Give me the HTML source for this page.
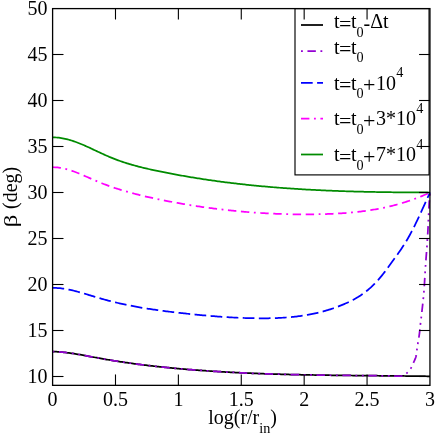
<!DOCTYPE html>
<html><head><meta charset="utf-8"><style>
html,body{margin:0;padding:0;background:#fff;}
svg{display:block;will-change:transform;}
text{font-family:"Liberation Serif",serif;font-size:20px;fill:#000;}
</style></head><body>
<svg width="436" height="434" viewBox="0 0 436 434">
<rect x="0" y="0" width="436" height="434" fill="#fff"/>
<g fill="none" stroke-width="1.75" stroke-linejoin="round">
<path d="M52.50,351.53 L53.76,351.57 L55.03,351.63 L56.29,351.70 L57.55,351.78 L58.81,351.87 L60.08,351.98 L61.34,352.09 L62.60,352.21 L63.86,352.34 L65.13,352.48 L66.39,352.63 L67.65,352.79 L68.91,352.95 L70.18,353.12 L71.44,353.30 L72.70,353.49 L73.96,353.68 L75.23,353.88 L76.49,354.08 L77.75,354.29 L79.01,354.50 L80.28,354.72 L81.54,354.94 L82.80,355.16 L84.06,355.39 L85.33,355.62 L86.59,355.85 L87.85,356.08 L89.11,356.32 L90.38,356.55 L91.64,356.79 L92.90,357.02 L94.16,357.26 L95.43,357.49 L96.69,357.73 L97.95,357.96 L99.21,358.19 L100.48,358.42 L101.74,358.65 L103.00,358.87 L104.26,359.10 L105.53,359.32 L106.79,359.53 L108.05,359.75 L109.31,359.96 L110.58,360.17 L111.84,360.38 L113.10,360.59 L114.36,360.79 L115.63,360.99 L116.89,361.19 L118.15,361.39 L119.41,361.59 L120.68,361.78 L121.94,361.97 L123.20,362.16 L124.46,362.35 L125.73,362.53 L126.99,362.71 L128.25,362.89 L129.52,363.07 L130.78,363.25 L132.04,363.42 L133.30,363.60 L134.57,363.77 L135.83,363.94 L137.09,364.10 L138.35,364.27 L139.62,364.43 L140.88,364.59 L142.14,364.75 L143.40,364.91 L144.67,365.06 L145.93,365.22 L147.19,365.37 L148.45,365.52 L149.72,365.67 L150.98,365.82 L152.24,365.96 L153.50,366.10 L154.77,366.25 L156.03,366.39 L157.29,366.53 L158.55,366.66 L159.82,366.80 L161.08,366.93 L162.34,367.06 L163.60,367.19 L164.87,367.32 L166.13,367.45 L167.39,367.58 L168.65,367.70 L169.92,367.83 L171.18,367.95 L172.44,368.07 L173.70,368.19 L174.97,368.30 L176.23,368.42 L177.49,368.53 L178.75,368.65 L180.02,368.76 L181.28,368.87 L182.54,368.98 L183.80,369.09 L185.07,369.20 L186.33,369.30 L187.59,369.41 L188.85,369.51 L190.12,369.61 L191.38,369.71 L192.64,369.81 L193.90,369.91 L195.17,370.01 L196.43,370.10 L197.69,370.20 L198.95,370.29 L200.22,370.38 L201.48,370.48 L202.74,370.57 L204.01,370.66 L205.27,370.74 L206.53,370.83 L207.79,370.92 L209.06,371.00 L210.32,371.08 L211.58,371.17 L212.84,371.25 L214.11,371.33 L215.37,371.41 L216.63,371.49 L217.89,371.56 L219.16,371.64 L220.42,371.71 L221.68,371.79 L222.94,371.86 L224.21,371.93 L225.47,372.01 L226.73,372.08 L227.99,372.14 L229.26,372.21 L230.52,372.28 L231.78,372.35 L233.04,372.41 L234.31,372.48 L235.57,372.54 L236.83,372.60 L238.09,372.66 L239.36,372.72 L240.62,372.78 L241.88,372.84 L243.14,372.90 L244.41,372.96 L245.67,373.01 L246.93,373.07 L248.19,373.13 L249.46,373.18 L250.72,373.23 L251.98,373.28 L253.24,373.34 L254.51,373.39 L255.77,373.44 L257.03,373.48 L258.29,373.53 L259.56,373.58 L260.82,373.63 L262.08,373.67 L263.34,373.72 L264.61,373.76 L265.87,373.81 L267.13,373.85 L268.39,373.89 L269.66,373.93 L270.92,373.97 L272.18,374.01 L273.44,374.05 L274.71,374.09 L275.97,374.13 L277.23,374.17 L278.49,374.20 L279.76,374.24 L281.02,374.28 L282.28,374.31 L283.55,374.34 L284.81,374.38 L286.07,374.41 L287.33,374.44 L288.60,374.48 L289.86,374.51 L291.12,374.54 L292.38,374.57 L293.65,374.60 L294.91,374.63 L296.17,374.65 L297.43,374.68 L298.70,374.71 L299.96,374.74 L301.22,374.76 L302.48,374.79 L303.75,374.81 L305.01,374.84 L306.27,374.86 L307.53,374.89 L308.80,374.91 L310.06,374.94 L311.32,374.96 L312.58,374.98 L313.85,375.00 L315.11,375.02 L316.37,375.04 L317.63,375.07 L318.90,375.09 L320.16,375.11 L321.42,375.12 L322.68,375.14 L323.95,375.16 L325.21,375.18 L326.47,375.20 L327.73,375.22 L329.00,375.23 L330.26,375.25 L331.52,375.27 L332.78,375.28 L334.05,375.30 L335.31,375.32 L336.57,375.33 L337.83,375.35 L339.10,375.36 L340.36,375.38 L341.62,375.39 L342.88,375.41 L344.15,375.42 L345.41,375.44 L346.67,375.45 L347.93,375.46 L349.20,375.48 L350.46,375.49 L351.72,375.50 L352.98,375.52 L354.25,375.53 L355.51,375.54 L356.77,375.55 L358.04,375.56 L359.30,375.58 L360.56,375.59 L361.82,375.60 L363.09,375.61 L364.35,375.62 L365.61,375.64 L366.87,375.65 L368.14,375.66 L369.40,375.67 L370.66,375.68 L371.92,375.69 L373.19,375.70 L374.45,375.72 L375.71,375.73 L376.97,375.74 L378.24,375.75 L379.50,375.76 L380.76,375.77 L382.02,375.78 L383.29,375.79 L384.55,375.80 L385.81,375.82 L387.07,375.83 L388.34,375.84 L389.60,375.85 L390.86,375.86 L392.12,375.87 L393.39,375.88 L394.65,375.90 L395.91,375.91 L397.17,375.92 L398.44,375.93 L399.70,375.95 L400.96,375.96 L402.22,375.97 L403.49,375.98 L404.75,376.00 L406.01,376.01 L407.27,376.02 L408.54,376.04 L409.80,376.05 L411.06,376.06 L412.32,376.08 L413.59,376.09 L414.85,376.11 L416.11,376.12 L417.37,376.14 L418.64,376.15 L419.90,376.17 L421.16,376.18 L422.42,376.20 L423.69,376.22 L424.95,376.23 L426.21,376.25 L427.47,376.27 L428.74,376.28 L430.00,376.30" stroke="#000"/>
<path d="M52.50,351.53 L53.76,351.57 L55.03,351.63 L56.29,351.70 L57.55,351.78 L58.81,351.87 L60.08,351.98 L61.34,352.09 L62.60,352.21 L63.86,352.34 L65.13,352.48 L66.39,352.63 L67.65,352.79 L68.91,352.95 L70.18,353.12 L71.44,353.30 L72.70,353.49 L73.96,353.68 L75.23,353.88 L76.49,354.08 L77.75,354.29 L79.01,354.50 L80.28,354.72 L81.54,354.94 L82.80,355.16 L84.06,355.39 L85.33,355.62 L86.59,355.85 L87.85,356.08 L89.11,356.32 L90.38,356.55 L91.64,356.79 L92.90,357.02 L94.16,357.26 L95.43,357.49 L96.69,357.73 L97.95,357.96 L99.21,358.19 L100.48,358.42 L101.74,358.65 L103.00,358.87 L104.26,359.10 L105.53,359.32 L106.79,359.53 L108.05,359.75 L109.31,359.96 L110.58,360.17 L111.84,360.38 L113.10,360.59 L114.36,360.79 L115.63,360.99 L116.89,361.19 L118.15,361.39 L119.41,361.59 L120.68,361.78 L121.94,361.97 L123.20,362.16 L124.46,362.35 L125.73,362.53 L126.99,362.71 L128.25,362.89 L129.52,363.07 L130.78,363.25 L132.04,363.42 L133.30,363.60 L134.57,363.77 L135.83,363.94 L137.09,364.10 L138.35,364.27 L139.62,364.43 L140.88,364.59 L142.14,364.75 L143.40,364.91 L144.67,365.06 L145.93,365.22 L147.19,365.37 L148.45,365.52 L149.72,365.67 L150.98,365.82 L152.24,365.96 L153.50,366.10 L154.77,366.25 L156.03,366.39 L157.29,366.53 L158.55,366.66 L159.82,366.80 L161.08,366.93 L162.34,367.06 L163.60,367.19 L164.87,367.32 L166.13,367.45 L167.39,367.58 L168.65,367.70 L169.92,367.83 L171.18,367.95 L172.44,368.07 L173.70,368.19 L174.97,368.30 L176.23,368.42 L177.49,368.53 L178.75,368.65 L180.02,368.76 L181.28,368.87 L182.54,368.98 L183.80,369.09 L185.07,369.20 L186.33,369.30 L187.59,369.41 L188.85,369.51 L190.12,369.61 L191.38,369.71 L192.64,369.81 L193.90,369.91 L195.17,370.01 L196.43,370.10 L197.69,370.20 L198.95,370.29 L200.22,370.38 L201.48,370.48 L202.74,370.57 L204.01,370.66 L205.27,370.74 L206.53,370.83 L207.79,370.92 L209.06,371.00 L210.32,371.08 L211.58,371.17 L212.84,371.25 L214.11,371.33 L215.37,371.41 L216.63,371.49 L217.89,371.56 L219.16,371.64 L220.42,371.71 L221.68,371.79 L222.94,371.86 L224.21,371.93 L225.47,372.01 L226.73,372.08 L227.99,372.14 L229.26,372.21 L230.52,372.28 L231.78,372.35 L233.04,372.41 L234.31,372.48 L235.57,372.54 L236.83,372.60 L238.09,372.66 L239.36,372.72 L240.62,372.78 L241.88,372.84 L243.14,372.90 L244.41,372.96 L245.67,373.01 L246.93,373.07 L248.19,373.13 L249.46,373.18 L250.72,373.23 L251.98,373.28 L253.24,373.34 L254.51,373.39 L255.77,373.44 L257.03,373.48 L258.29,373.53 L259.56,373.58 L260.82,373.63 L262.08,373.67 L263.34,373.72 L264.61,373.76 L265.87,373.81 L267.13,373.85 L268.39,373.89 L269.66,373.93 L270.92,373.97 L272.18,374.01 L273.44,374.05 L274.71,374.09 L275.97,374.13 L277.23,374.17 L278.49,374.20 L279.76,374.24 L281.02,374.28 L282.28,374.31 L283.55,374.34 L284.81,374.38 L286.07,374.41 L287.33,374.44 L288.60,374.48 L289.86,374.51 L291.12,374.54 L292.38,374.57 L293.65,374.60 L294.91,374.63 L296.17,374.65 L297.43,374.68 L298.70,374.71 L299.96,374.74 L301.22,374.76 L302.48,374.79 L303.75,374.81 L305.01,374.84 L306.27,374.86 L307.53,374.89 L308.80,374.91 L310.06,374.94 L311.32,374.96 L312.58,374.98 L313.85,375.00 L315.11,375.02 L316.37,375.04 L317.63,375.07 L318.90,375.09 L320.16,375.11 L321.42,375.12 L322.68,375.14 L323.95,375.16 L325.21,375.18 L326.47,375.20 L327.73,375.22 L329.00,375.23 L330.26,375.25 L331.52,375.27 L332.78,375.28 L334.05,375.30 L335.31,375.32 L336.57,375.33 L337.83,375.35 L339.10,375.36 L340.36,375.38 L341.62,375.39 L342.88,375.41 L344.15,375.42 L345.41,375.44 L346.67,375.45 L347.93,375.46 L349.20,375.48 L350.46,375.49 L351.72,375.50 L352.98,375.52 L354.25,375.53 L355.51,375.54 L356.77,375.55 L358.04,375.56 L359.30,375.58 L360.56,375.59 L361.82,375.60 L363.09,375.61 L364.35,375.62 L365.61,375.64 L366.87,375.65 L368.14,375.66 L369.40,375.67 L370.66,375.68 L371.92,375.69 L373.19,375.70 L374.45,375.72 L375.71,375.73 L376.97,375.74 L378.24,375.75 L379.50,375.76 L380.76,375.77 L382.02,375.78 L383.29,375.79 L384.55,375.80 L385.81,375.82 L387.07,375.83 L388.34,375.84 L389.60,375.85 L390.00,376.20 L391.01,376.20 L392.03,376.20 L393.04,376.20 L394.05,376.20 L395.06,376.20 L396.07,376.20 L397.10,376.19 L398.13,376.17 L399.17,376.14 L400.19,376.10 L401.18,376.05 L402.13,375.99 L403.06,375.75 L403.98,375.30 L404.86,374.70 L405.71,374.03 L406.50,373.36 L407.24,372.72 L407.96,372.02 L408.65,371.26 L409.30,370.46 L409.92,369.63 L410.50,368.78 L411.04,367.94 L411.53,367.07 L411.99,366.17 L412.42,365.25 L412.83,364.32 L413.23,363.38 L413.62,362.44 L414.03,361.51 L414.45,360.58 L414.86,359.64 L415.26,358.69 L415.62,357.74 L415.92,356.78 L416.16,355.82 L416.33,354.83 L416.46,353.84 L416.57,352.83 L416.67,351.81 L416.78,350.80 L416.90,349.79 L417.04,348.79 L417.19,347.79 L417.34,346.79 L417.49,345.79 L417.65,344.79 L417.81,343.79 L417.97,342.79 L418.13,341.79 L418.30,340.79 L418.47,339.79 L418.64,338.79 L418.80,337.79 L418.97,336.79 L419.12,335.79 L419.26,334.79 L419.39,333.79 L419.51,332.78 L419.63,331.78 L419.74,330.77 L419.84,329.77 L419.95,328.76 L420.05,327.75 L420.16,326.74 L420.26,325.74 L420.37,324.73 L420.49,323.72 L420.61,322.72 L420.73,321.71 L420.86,320.71 L420.99,319.71 L421.12,318.70 L421.24,317.70 L421.35,316.69 L421.47,315.68 L421.58,314.68 L421.69,313.67 L421.80,312.67 L421.91,311.66 L422.02,310.65 L422.12,309.65 L422.23,308.64 L422.34,307.63 L422.45,306.63 L422.56,305.62 L422.67,304.61 L422.77,303.61 L422.88,302.60 L422.99,301.59 L423.09,300.59 L423.19,299.58 L423.29,298.57 L423.39,297.56 L423.49,296.56 L423.58,295.55 L423.68,294.54 L423.77,293.53 L423.85,292.52 L423.93,291.52 L424.00,290.51 L424.08,289.50 L424.15,288.49 L424.22,287.48 L424.28,286.47 L424.35,285.46 L424.41,284.45 L424.47,283.44 L424.53,282.42 L424.59,281.41 L424.65,280.40 L424.71,279.39 L424.77,278.38 L424.83,277.37 L424.89,276.36 L424.95,275.35 L425.02,274.34 L425.08,273.33 L425.14,272.32 L425.21,271.31 L425.27,270.30 L425.34,269.29 L425.40,268.28 L425.46,267.27 L425.53,266.26 L425.59,265.25 L425.66,264.24 L425.72,263.23 L425.79,262.22 L425.86,261.21 L425.93,260.20 L426.00,259.19 L426.07,258.18 L426.15,257.17 L426.22,256.16 L426.30,255.15 L426.38,254.14 L426.46,253.13 L426.53,252.12 L426.61,251.11 L426.69,250.10 L426.76,249.09 L426.83,248.08 L426.91,247.07 L426.98,246.06 L427.04,245.05 L427.11,244.04 L427.17,243.03 L427.24,242.02 L427.30,241.01 L427.37,240.00 L427.43,238.99 L427.49,237.98 L427.55,236.97 L427.61,235.96 L427.67,234.95 L427.73,233.94 L427.78,232.93 L427.84,231.92 L427.89,230.91 L427.95,229.90 L428.00,228.88 L428.05,227.87 L428.10,226.86 L428.15,225.85 L428.19,224.84 L428.24,223.83 L428.29,222.82 L428.33,221.81 L428.38,220.79 L428.42,219.78 L428.47,218.77 L428.51,217.76 L428.56,216.75 L428.61,215.74 L428.65,214.73 L428.70,213.72 L428.74,212.70 L428.79,211.69 L428.83,210.68 L428.87,209.67 L428.91,208.66 L428.96,207.65 L429.00,206.63 L429.05,205.62 L429.10,204.61 L429.15,203.60 L429.21,202.59 L429.26,201.58 L429.33,200.57 L429.40,199.56 L429.47,198.55 L429.55,197.54 L429.63,196.53 L429.72,195.52 L429.81,194.52 L429.90,193.51 L430.00,192.50" stroke="#9400d3" stroke-dasharray="1.85 4.6 8.4 4.6 1.85 4.6"/>
<path d="M52.50,287.82 L53.76,287.83 L55.03,287.87 L56.29,287.93 L57.55,288.01 L58.81,288.11 L60.08,288.24 L61.34,288.38 L62.60,288.55 L63.86,288.73 L65.13,288.93 L66.39,289.15 L67.65,289.39 L68.91,289.64 L70.18,289.90 L71.44,290.18 L72.70,290.47 L73.96,290.77 L75.23,291.09 L76.49,291.41 L77.75,291.75 L79.01,292.09 L80.28,292.44 L81.54,292.80 L82.80,293.16 L84.06,293.53 L85.33,293.91 L86.59,294.28 L87.85,294.67 L89.11,295.05 L90.38,295.43 L91.64,295.82 L92.90,296.20 L94.16,296.59 L95.43,296.97 L96.69,297.35 L97.95,297.72 L99.21,298.09 L100.48,298.46 L101.74,298.82 L103.00,299.18 L104.26,299.53 L105.53,299.87 L106.79,300.21 L108.05,300.54 L109.31,300.87 L110.58,301.19 L111.84,301.51 L113.10,301.82 L114.36,302.13 L115.63,302.43 L116.89,302.73 L118.15,303.02 L119.41,303.31 L120.68,303.59 L121.94,303.87 L123.20,304.15 L124.46,304.42 L125.73,304.68 L126.99,304.94 L128.25,305.20 L129.52,305.45 L130.78,305.70 L132.04,305.95 L133.30,306.19 L134.57,306.42 L135.83,306.66 L137.09,306.88 L138.35,307.11 L139.62,307.33 L140.88,307.55 L142.14,307.77 L143.40,307.98 L144.67,308.18 L145.93,308.39 L147.19,308.59 L148.45,308.79 L149.72,308.98 L150.98,309.18 L152.24,309.37 L153.50,309.55 L154.77,309.74 L156.03,309.92 L157.29,310.10 L158.55,310.27 L159.82,310.44 L161.08,310.62 L162.34,310.78 L163.60,310.95 L164.87,311.11 L166.13,311.28 L167.39,311.43 L168.65,311.59 L169.92,311.75 L171.18,311.90 L172.44,312.05 L173.70,312.20 L174.97,312.35 L176.23,312.50 L177.49,312.64 L178.75,312.79 L180.02,312.93 L181.28,313.07 L182.54,313.21 L183.80,313.35 L185.07,313.48 L186.33,313.62 L187.59,313.75 L188.85,313.89 L190.12,314.02 L191.38,314.15 L192.64,314.28 L193.90,314.41 L195.17,314.53 L196.43,314.66 L197.69,314.78 L198.95,314.90 L200.22,315.02 L201.48,315.14 L202.74,315.26 L204.01,315.38 L205.27,315.49 L206.53,315.60 L207.79,315.71 L209.06,315.82 L210.32,315.93 L211.58,316.03 L212.84,316.14 L214.11,316.24 L215.37,316.34 L216.63,316.44 L217.89,316.53 L219.16,316.62 L220.42,316.71 L221.68,316.80 L222.94,316.89 L224.21,316.97 L225.47,317.06 L226.73,317.14 L227.99,317.21 L229.26,317.29 L230.52,317.36 L231.78,317.43 L233.04,317.50 L234.31,317.57 L235.57,317.63 L236.83,317.69 L238.09,317.75 L239.36,317.80 L240.62,317.86 L241.88,317.91 L243.14,317.95 L244.41,318.00 L245.67,318.04 L246.93,318.08 L248.19,318.11 L249.46,318.15 L250.72,318.18 L251.98,318.20 L253.24,318.23 L254.51,318.25 L255.77,318.27 L257.03,318.28 L258.29,318.29 L259.56,318.30 L260.82,318.31 L262.08,318.31 L263.34,318.31 L264.61,318.30 L265.87,318.29 L267.13,318.28 L268.39,318.26 L269.66,318.24 L270.92,318.21 L272.18,318.18 L273.44,318.15 L274.71,318.11 L275.97,318.06 L277.23,318.01 L278.49,317.96 L279.76,317.89 L281.02,317.83 L282.28,317.75 L283.55,317.68 L284.81,317.59 L286.07,317.50 L287.33,317.40 L288.60,317.30 L289.86,317.19 L291.12,317.07 L292.38,316.95 L293.65,316.82 L294.91,316.68 L296.17,316.54 L297.43,316.38 L298.70,316.22 L299.96,316.05 L301.22,315.88 L302.48,315.69 L303.75,315.50 L305.01,315.30 L306.27,315.09 L307.53,314.87 L308.80,314.65 L310.06,314.41 L311.32,314.16 L312.58,313.91 L313.85,313.65 L315.11,313.37 L316.37,313.09 L317.63,312.80 L318.90,312.49 L320.16,312.18 L321.42,311.86 L322.68,311.53 L323.95,311.18 L325.21,310.83 L326.47,310.46 L327.73,310.08 L329.00,309.70 L330.26,309.30 L331.52,308.89 L332.78,308.46 L334.05,308.03 L335.31,307.58 L336.57,307.13 L337.83,306.66 L339.10,306.17 L340.36,305.68 L341.62,305.17 L342.88,304.65 L344.15,304.12 L345.41,303.57 L346.67,303.01 L347.93,302.43 L349.20,301.83 L350.46,301.21 L351.72,300.57 L352.98,299.91 L354.25,299.23 L355.51,298.52 L356.77,297.78 L358.04,297.02 L359.30,296.22 L360.56,295.40 L361.82,294.54 L363.09,293.65 L364.35,292.73 L365.61,291.77 L366.87,290.77 L368.14,289.73 L369.40,288.65 L370.66,287.53 L371.92,286.37 L373.19,285.16 L374.45,283.91 L375.71,282.61 L376.97,281.26 L378.24,279.87 L379.50,278.42 L380.76,276.92 L382.02,275.36 L383.29,273.77 L384.55,272.13 L385.81,270.47 L387.07,268.77 L388.34,267.06 L389.60,265.33 L390.86,263.59 L392.12,261.85 L393.39,260.10 L394.65,258.36 L395.91,256.61 L397.17,254.85 L398.44,253.07 L399.70,251.26 L400.96,249.41 L402.22,247.53 L403.49,245.59 L404.75,243.60 L406.01,241.55 L407.27,239.44 L408.54,237.25 L409.80,235.00 L411.06,232.68 L412.32,230.30 L413.59,227.84 L414.85,225.32 L416.11,222.74 L417.37,220.11 L418.64,217.43 L419.90,214.72 L421.16,211.97 L422.42,209.20 L423.69,206.42 L424.95,203.62 L426.21,200.82 L427.47,198.03 L428.74,195.25 L430.00,192.49" stroke="#0000ff" stroke-dasharray="11.7 4.4"/>
<path d="M52.50,167.24 L53.76,167.25 L55.03,167.30 L56.29,167.37 L57.55,167.48 L58.81,167.63 L60.08,167.80 L61.34,168.01 L62.60,168.24 L63.86,168.50 L65.13,168.79 L66.39,169.11 L67.65,169.46 L68.91,169.82 L70.18,170.22 L71.44,170.63 L72.70,171.06 L73.96,171.52 L75.23,171.99 L76.49,172.47 L77.75,172.97 L79.01,173.48 L80.28,174.01 L81.54,174.54 L82.80,175.08 L84.06,175.63 L85.33,176.18 L86.59,176.74 L87.85,177.30 L89.11,177.86 L90.38,178.42 L91.64,178.98 L92.90,179.54 L94.16,180.09 L95.43,180.63 L96.69,181.17 L97.95,181.70 L99.21,182.21 L100.48,182.72 L101.74,183.23 L103.00,183.72 L104.26,184.20 L105.53,184.68 L106.79,185.15 L108.05,185.61 L109.31,186.07 L110.58,186.51 L111.84,186.95 L113.10,187.38 L114.36,187.81 L115.63,188.23 L116.89,188.64 L118.15,189.04 L119.41,189.44 L120.68,189.83 L121.94,190.22 L123.20,190.60 L124.46,190.97 L125.73,191.34 L126.99,191.70 L128.25,192.06 L129.52,192.41 L130.78,192.75 L132.04,193.09 L133.30,193.43 L134.57,193.76 L135.83,194.08 L137.09,194.40 L138.35,194.72 L139.62,195.03 L140.88,195.34 L142.14,195.64 L143.40,195.94 L144.67,196.24 L145.93,196.53 L147.19,196.82 L148.45,197.10 L149.72,197.38 L150.98,197.66 L152.24,197.94 L153.50,198.21 L154.77,198.48 L156.03,198.74 L157.29,199.01 L158.55,199.27 L159.82,199.53 L161.08,199.78 L162.34,200.04 L163.60,200.29 L164.87,200.54 L166.13,200.79 L167.39,201.04 L168.65,201.28 L169.92,201.52 L171.18,201.76 L172.44,202.00 L173.70,202.23 L174.97,202.46 L176.23,202.69 L177.49,202.92 L178.75,203.15 L180.02,203.37 L181.28,203.59 L182.54,203.81 L183.80,204.03 L185.07,204.24 L186.33,204.45 L187.59,204.66 L188.85,204.87 L190.12,205.08 L191.38,205.28 L192.64,205.48 L193.90,205.68 L195.17,205.88 L196.43,206.07 L197.69,206.26 L198.95,206.45 L200.22,206.64 L201.48,206.83 L202.74,207.01 L204.01,207.19 L205.27,207.37 L206.53,207.54 L207.79,207.72 L209.06,207.89 L210.32,208.06 L211.58,208.23 L212.84,208.39 L214.11,208.55 L215.37,208.71 L216.63,208.87 L217.89,209.03 L219.16,209.18 L220.42,209.33 L221.68,209.48 L222.94,209.63 L224.21,209.78 L225.47,209.92 L226.73,210.06 L227.99,210.20 L229.26,210.33 L230.52,210.47 L231.78,210.60 L233.04,210.73 L234.31,210.85 L235.57,210.98 L236.83,211.10 L238.09,211.22 L239.36,211.34 L240.62,211.45 L241.88,211.57 L243.14,211.68 L244.41,211.79 L245.67,211.89 L246.93,212.00 L248.19,212.10 L249.46,212.20 L250.72,212.30 L251.98,212.39 L253.24,212.48 L254.51,212.58 L255.77,212.66 L257.03,212.75 L258.29,212.83 L259.56,212.92 L260.82,213.00 L262.08,213.07 L263.34,213.15 L264.61,213.22 L265.87,213.29 L267.13,213.36 L268.39,213.42 L269.66,213.49 L270.92,213.55 L272.18,213.61 L273.44,213.67 L274.71,213.72 L275.97,213.77 L277.23,213.82 L278.49,213.87 L279.76,213.92 L281.02,213.96 L282.28,214.00 L283.55,214.04 L284.81,214.08 L286.07,214.11 L287.33,214.14 L288.60,214.17 L289.86,214.20 L291.12,214.22 L292.38,214.25 L293.65,214.27 L294.91,214.29 L296.17,214.30 L297.43,214.32 L298.70,214.33 L299.96,214.34 L301.22,214.34 L302.48,214.35 L303.75,214.35 L305.01,214.35 L306.27,214.35 L307.53,214.35 L308.80,214.34 L310.06,214.33 L311.32,214.32 L312.58,214.31 L313.85,214.29 L315.11,214.27 L316.37,214.25 L317.63,214.23 L318.90,214.21 L320.16,214.18 L321.42,214.15 L322.68,214.12 L323.95,214.08 L325.21,214.05 L326.47,214.01 L327.73,213.96 L329.00,213.92 L330.26,213.87 L331.52,213.82 L332.78,213.76 L334.05,213.70 L335.31,213.64 L336.57,213.57 L337.83,213.51 L339.10,213.43 L340.36,213.36 L341.62,213.27 L342.88,213.19 L344.15,213.10 L345.41,213.01 L346.67,212.91 L347.93,212.81 L349.20,212.70 L350.46,212.59 L351.72,212.48 L352.98,212.36 L354.25,212.23 L355.51,212.10 L356.77,211.97 L358.04,211.83 L359.30,211.69 L360.56,211.54 L361.82,211.38 L363.09,211.22 L364.35,211.05 L365.61,210.88 L366.87,210.70 L368.14,210.52 L369.40,210.33 L370.66,210.14 L371.92,209.93 L373.19,209.73 L374.45,209.51 L375.71,209.29 L376.97,209.06 L378.24,208.83 L379.50,208.59 L380.76,208.34 L382.02,208.09 L383.29,207.83 L384.55,207.56 L385.81,207.29 L387.07,207.01 L388.34,206.72 L389.60,206.42 L390.86,206.12 L392.12,205.81 L393.39,205.49 L394.65,205.16 L395.91,204.83 L397.17,204.48 L398.44,204.13 L399.70,203.77 L400.96,203.41 L402.22,203.03 L403.49,202.65 L404.75,202.26 L406.01,201.86 L407.27,201.45 L408.54,201.03 L409.80,200.60 L411.06,200.17 L412.32,199.72 L413.59,199.27 L414.85,198.80 L416.11,198.33 L417.37,197.85 L418.64,197.36 L419.90,196.86 L421.16,196.35 L422.42,195.83 L423.69,195.30 L424.95,194.76 L426.21,194.21 L427.47,193.65 L428.74,193.08 L430.00,192.50" stroke="#ff00ff" stroke-dasharray="8.4 4.58 1.85 4.58 8.4 4.62"/>
<path d="M52.50,137.35 L53.76,137.37 L55.03,137.42 L56.29,137.50 L57.55,137.61 L58.81,137.74 L60.08,137.90 L61.34,138.08 L62.60,138.30 L63.86,138.54 L65.13,138.81 L66.39,139.10 L67.65,139.42 L68.91,139.76 L70.18,140.13 L71.44,140.51 L72.70,140.92 L73.96,141.34 L75.23,141.79 L76.49,142.25 L77.75,142.73 L79.01,143.22 L80.28,143.73 L81.54,144.25 L82.80,144.78 L84.06,145.32 L85.33,145.87 L86.59,146.44 L87.85,147.00 L89.11,147.58 L90.38,148.16 L91.64,148.75 L92.90,149.34 L94.16,149.93 L95.43,150.53 L96.69,151.12 L97.95,151.71 L99.21,152.31 L100.48,152.89 L101.74,153.48 L103.00,154.06 L104.26,154.64 L105.53,155.20 L106.79,155.76 L108.05,156.31 L109.31,156.86 L110.58,157.38 L111.84,157.90 L113.10,158.41 L114.36,158.91 L115.63,159.39 L116.89,159.86 L118.15,160.33 L119.41,160.78 L120.68,161.23 L121.94,161.66 L123.20,162.08 L124.46,162.50 L125.73,162.91 L126.99,163.30 L128.25,163.69 L129.52,164.08 L130.78,164.45 L132.04,164.81 L133.30,165.17 L134.57,165.52 L135.83,165.87 L137.09,166.21 L138.35,166.54 L139.62,166.86 L140.88,167.18 L142.14,167.50 L143.40,167.80 L144.67,168.11 L145.93,168.41 L147.19,168.70 L148.45,168.99 L149.72,169.27 L150.98,169.55 L152.24,169.83 L153.50,170.10 L154.77,170.38 L156.03,170.64 L157.29,170.91 L158.55,171.17 L159.82,171.43 L161.08,171.69 L162.34,171.94 L163.60,172.20 L164.87,172.45 L166.13,172.70 L167.39,172.95 L168.65,173.19 L169.92,173.44 L171.18,173.68 L172.44,173.92 L173.70,174.16 L174.97,174.39 L176.23,174.63 L177.49,174.86 L178.75,175.09 L180.02,175.31 L181.28,175.54 L182.54,175.76 L183.80,175.98 L185.07,176.20 L186.33,176.42 L187.59,176.64 L188.85,176.85 L190.12,177.06 L191.38,177.27 L192.64,177.48 L193.90,177.69 L195.17,177.89 L196.43,178.09 L197.69,178.30 L198.95,178.49 L200.22,178.69 L201.48,178.89 L202.74,179.08 L204.01,179.27 L205.27,179.46 L206.53,179.65 L207.79,179.83 L209.06,180.02 L210.32,180.20 L211.58,180.38 L212.84,180.56 L214.11,180.74 L215.37,180.91 L216.63,181.09 L217.89,181.26 L219.16,181.43 L220.42,181.60 L221.68,181.77 L222.94,181.93 L224.21,182.09 L225.47,182.26 L226.73,182.42 L227.99,182.57 L229.26,182.73 L230.52,182.89 L231.78,183.04 L233.04,183.19 L234.31,183.34 L235.57,183.49 L236.83,183.64 L238.09,183.78 L239.36,183.93 L240.62,184.07 L241.88,184.21 L243.14,184.35 L244.41,184.49 L245.67,184.62 L246.93,184.76 L248.19,184.89 L249.46,185.02 L250.72,185.15 L251.98,185.28 L253.24,185.41 L254.51,185.53 L255.77,185.66 L257.03,185.78 L258.29,185.90 L259.56,186.02 L260.82,186.14 L262.08,186.26 L263.34,186.37 L264.61,186.49 L265.87,186.60 L267.13,186.71 L268.39,186.82 L269.66,186.93 L270.92,187.04 L272.18,187.14 L273.44,187.25 L274.71,187.35 L275.97,187.45 L277.23,187.55 L278.49,187.65 L279.76,187.75 L281.02,187.85 L282.28,187.94 L283.55,188.04 L284.81,188.13 L286.07,188.22 L287.33,188.31 L288.60,188.40 L289.86,188.49 L291.12,188.57 L292.38,188.66 L293.65,188.74 L294.91,188.83 L296.17,188.91 L297.43,188.99 L298.70,189.07 L299.96,189.14 L301.22,189.22 L302.48,189.30 L303.75,189.37 L305.01,189.45 L306.27,189.52 L307.53,189.59 L308.80,189.66 L310.06,189.73 L311.32,189.80 L312.58,189.86 L313.85,189.93 L315.11,189.99 L316.37,190.06 L317.63,190.12 L318.90,190.18 L320.16,190.24 L321.42,190.30 L322.68,190.36 L323.95,190.42 L325.21,190.47 L326.47,190.53 L327.73,190.58 L329.00,190.64 L330.26,190.69 L331.52,190.74 L332.78,190.79 L334.05,190.84 L335.31,190.89 L336.57,190.94 L337.83,190.98 L339.10,191.03 L340.36,191.07 L341.62,191.12 L342.88,191.16 L344.15,191.20 L345.41,191.25 L346.67,191.29 L347.93,191.33 L349.20,191.36 L350.46,191.40 L351.72,191.44 L352.98,191.48 L354.25,191.51 L355.51,191.55 L356.77,191.58 L358.04,191.61 L359.30,191.65 L360.56,191.68 L361.82,191.71 L363.09,191.74 L364.35,191.77 L365.61,191.80 L366.87,191.83 L368.14,191.85 L369.40,191.88 L370.66,191.91 L371.92,191.93 L373.19,191.96 L374.45,191.98 L375.71,192.00 L376.97,192.03 L378.24,192.05 L379.50,192.07 L380.76,192.09 L382.02,192.11 L383.29,192.13 L384.55,192.15 L385.81,192.17 L387.07,192.19 L388.34,192.20 L389.60,192.22 L390.86,192.23 L392.12,192.25 L393.39,192.27 L394.65,192.28 L395.91,192.29 L397.17,192.31 L398.44,192.32 L399.70,192.33 L400.96,192.34 L402.22,192.36 L403.49,192.37 L404.75,192.38 L406.01,192.39 L407.27,192.40 L408.54,192.41 L409.80,192.41 L411.06,192.42 L412.32,192.43 L413.59,192.44 L414.85,192.44 L416.11,192.45 L417.37,192.46 L418.64,192.46 L419.90,192.47 L421.16,192.47 L422.42,192.48 L423.69,192.48 L424.95,192.49 L426.21,192.49 L427.47,192.49 L428.74,192.50 L430.00,192.50" stroke="#008b00"/>
</g>
<rect x="295" y="8.6" width="134.05" height="166.3" fill="#fff" stroke="#000" stroke-width="1.15"/>
<g fill="none" stroke-width="1.75">
<line x1="301" y1="25" x2="323" y2="25" stroke="#000"/>
<line x1="301" y1="51.2" x2="323" y2="51.2" stroke="#9400d3" stroke-dasharray="1.85 4.6 8.4 4.6 1.85 4.6"/>
<line x1="301" y1="82.9" x2="323" y2="82.9" stroke="#0000ff" stroke-dasharray="11.7 4.4"/>
<line x1="301" y1="118.5" x2="323" y2="118.5" stroke="#ff00ff" stroke-dasharray="8.4 4.58 1.85 4.58 8.4 4.62"/>
<line x1="301" y1="154.5" x2="323" y2="154.5" stroke="#008b00"/>
</g>
<text x="334" y="28.4"><tspan font-size="20" dy="0.00" dx="0">t</tspan><tspan font-size="22" dy="2.30" dx="-0.5">=</tspan><tspan font-size="20" dy="-2.30" dx="-0.6">t</tspan><tspan font-size="14.2" dy="8.40" dx="0">0</tspan><tspan font-size="20" dy="-6.90" dx="0">-</tspan><tspan font-size="20" dy="-1.50" dx="0">Δt</tspan></text><text x="334" y="53.8"><tspan font-size="20" dy="0.00" dx="0">t</tspan><tspan font-size="22" dy="2.30" dx="-0.5">=</tspan><tspan font-size="20" dy="-2.30" dx="-0.6">t</tspan><tspan font-size="14.2" dy="8.40" dx="0">0</tspan></text><text x="334" y="90.0"><tspan font-size="20" dy="0.00" dx="0">t</tspan><tspan font-size="22" dy="2.30" dx="-0.5">=</tspan><tspan font-size="20" dy="-2.30" dx="-0.6">t</tspan><tspan font-size="14.2" dy="8.40" dx="0">0</tspan><tspan font-size="22" dy="-6.00" dx="-0.5">+</tspan><tspan font-size="20" dy="-2.40" dx="0.5">10</tspan><tspan font-size="14.2" dy="-12.80" dx="0.3">4</tspan></text><text x="334" y="125.3"><tspan font-size="20" dy="0.00" dx="0">t</tspan><tspan font-size="22" dy="2.30" dx="-0.5">=</tspan><tspan font-size="20" dy="-2.30" dx="-0.6">t</tspan><tspan font-size="14.2" dy="8.40" dx="0">0</tspan><tspan font-size="22" dy="-6.00" dx="-0.5">+</tspan><tspan font-size="20" dy="-2.40" dx="0.5">3*10</tspan><tspan font-size="14.2" dy="-12.80" dx="0.3">4</tspan></text><text x="334" y="161.3"><tspan font-size="20" dy="0.00" dx="0">t</tspan><tspan font-size="22" dy="2.30" dx="-0.5">=</tspan><tspan font-size="20" dy="-2.30" dx="-0.6">t</tspan><tspan font-size="14.2" dy="8.40" dx="0">0</tspan><tspan font-size="22" dy="-6.00" dx="-0.5">+</tspan><tspan font-size="20" dy="-2.40" dx="0.5">7*10</tspan><tspan font-size="14.2" dy="-12.80" dx="0.3">4</tspan></text>
<g stroke="#000" stroke-width="1.3" fill="none">
<rect x="52.6" y="8.6" width="377.34999999999997" height="376.75"/>
</g>
<g stroke="#000" stroke-width="1.1">
<line x1="115.49" y1="385.35" x2="115.49" y2="374.45000000000005"/><line x1="115.49" y1="8.6" x2="115.49" y2="19.5"/><line x1="178.38" y1="385.35" x2="178.38" y2="374.45000000000005"/><line x1="178.38" y1="8.6" x2="178.38" y2="19.5"/><line x1="241.27" y1="385.35" x2="241.27" y2="374.45000000000005"/><line x1="241.27" y1="8.6" x2="241.27" y2="19.5"/><line x1="304.17" y1="385.35" x2="304.17" y2="374.45000000000005"/><line x1="304.17" y1="8.6" x2="304.17" y2="19.5"/><line x1="367.06" y1="385.35" x2="367.06" y2="374.45000000000005"/><line x1="367.06" y1="8.6" x2="367.06" y2="19.5"/><line x1="52.6" y1="376.50" x2="63.5" y2="376.50"/><line x1="429.95" y1="376.50" x2="419.05" y2="376.50"/><line x1="52.6" y1="330.50" x2="63.5" y2="330.50"/><line x1="429.95" y1="330.50" x2="419.05" y2="330.50"/><line x1="52.6" y1="284.50" x2="63.5" y2="284.50"/><line x1="429.95" y1="284.50" x2="419.05" y2="284.50"/><line x1="52.6" y1="238.50" x2="63.5" y2="238.50"/><line x1="429.95" y1="238.50" x2="419.05" y2="238.50"/><line x1="52.6" y1="192.50" x2="63.5" y2="192.50"/><line x1="429.95" y1="192.50" x2="419.05" y2="192.50"/><line x1="52.6" y1="146.50" x2="63.5" y2="146.50"/><line x1="429.95" y1="146.50" x2="419.05" y2="146.50"/><line x1="52.6" y1="100.50" x2="63.5" y2="100.50"/><line x1="429.95" y1="100.50" x2="419.05" y2="100.50"/><line x1="52.6" y1="54.50" x2="63.5" y2="54.50"/><line x1="429.95" y1="54.50" x2="419.05" y2="54.50"/>
</g>
<text x="52.60" y="405.7" text-anchor="middle">0</text><text x="115.49" y="405.7" text-anchor="middle">0.5</text><text x="178.38" y="405.7" text-anchor="middle">1</text><text x="241.27" y="405.7" text-anchor="middle">1.5</text><text x="304.17" y="405.7" text-anchor="middle">2</text><text x="367.06" y="405.7" text-anchor="middle">2.5</text><text x="429.95" y="405.7" text-anchor="middle">3</text>
<text x="47.5" y="383.30" text-anchor="end">10</text><text x="47.5" y="337.30" text-anchor="end">15</text><text x="47.5" y="291.30" text-anchor="end">20</text><text x="47.5" y="245.30" text-anchor="end">25</text><text x="47.5" y="199.30" text-anchor="end">30</text><text x="47.5" y="153.30" text-anchor="end">35</text><text x="47.5" y="107.30" text-anchor="end">40</text><text x="47.5" y="61.30" text-anchor="end">45</text><text x="47.5" y="15.30" text-anchor="end">50</text>
<text x="208.2" y="424.2">log(r/r<tspan dy="8.4" font-size="14.2">in</tspan><tspan dy="-8.4">)</tspan></text>
<text transform="translate(17.2,227.2) rotate(-90) scale(1.24,0.98)">β</text><text transform="translate(17.2,208.95) rotate(-90)">(deg)</text>
</svg>
</body></html>
